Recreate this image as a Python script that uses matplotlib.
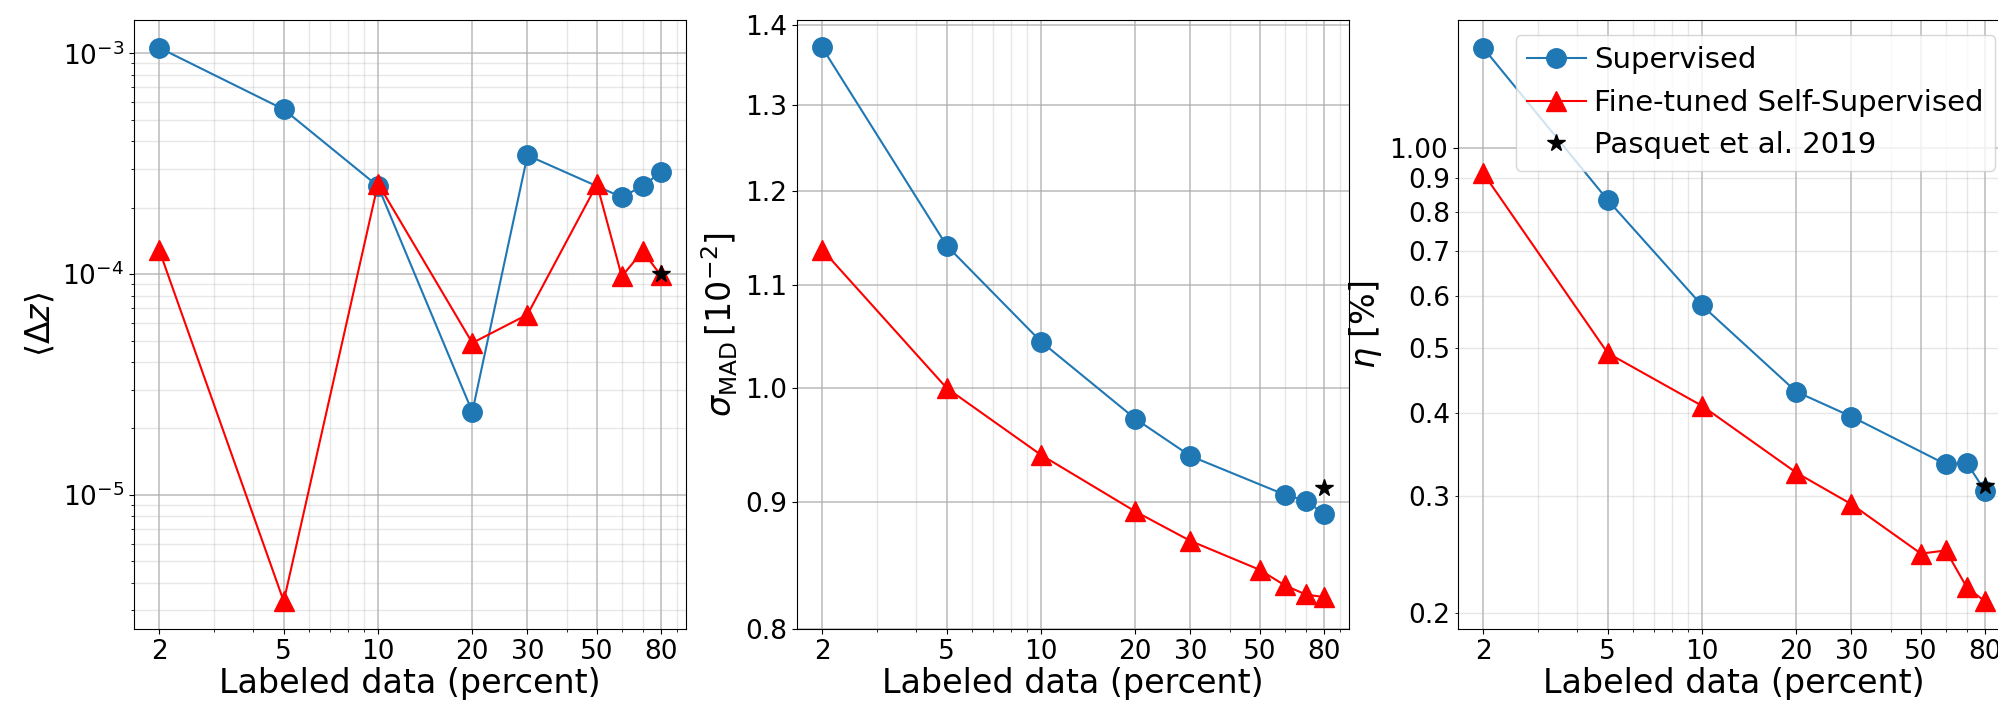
import matplotlib
matplotlib.use('Agg')
import matplotlib.pyplot as plt
from matplotlib import ticker

# labeled data fractions (percent)
x_sup = [2, 5, 10, 20, 30, 60, 70, 80]
x_ft = [2, 5, 10, 20, 30, 50, 60, 70, 80]
x_pasquet = [80]

# mean bias <dz>
bias_sup = [1.06e-3, 5.57e-4, 2.50e-4, 2.38e-5, 3.45e-4, 2.23e-4, 2.51e-4, 2.89e-4]
bias_ft = [1.29e-4, 3.30e-6, 2.57e-4, 4.88e-5, 6.56e-5, 2.55e-4, 9.77e-5, 1.27e-4, 9.86e-5]
bias_pasquet = [1.0e-4]

# sigma_MAD [1e-2]
mad_sup = [1.371, 1.141, 1.044, 0.972, 0.939, 0.906, 0.901, 0.890]
mad_ft = [1.137, 1.000, 0.940, 0.892, 0.868, 0.845, 0.833, 0.826, 0.824]
mad_pasquet = [0.912]

# outlier fraction eta [%]
eta_sup = [1.414, 0.835, 0.580, 0.4305, 0.395, 0.335, 0.3366, 0.3057]
eta_ft = [0.917, 0.492, 0.410, 0.3254, 0.2918, 0.246, 0.2487, 0.219, 0.2086]
eta_pasquet = [0.3104]

xticks = [2, 5, 10, 20, 30, 50, 80]
mad_ticks = [0.8, 0.9, 1.0, 1.1, 1.2, 1.3, 1.4]

W, H = 1998, 706
fig = plt.figure(figsize=(W / 100, H / 100), dpi=100)
bottom = 1 - 629 / H
height = (629 - 20) / H
width = 552 / W
ax1 = fig.add_axes([134 / W, bottom, width, height])
ax2 = fig.add_axes([797 / W, bottom, width, height])
ax3 = fig.add_axes([1458 / W, bottom, width, height])

panels = [(ax1, bias_sup, bias_ft, bias_pasquet, r'$\langle \Delta z \rangle$'),
          (ax2, mad_sup, mad_ft, mad_pasquet, r'$\sigma_{\mathrm{MAD}}\,[10^{-2}]$'),
          (ax3, eta_sup, eta_ft, eta_pasquet, r'$\eta$ [%]')]

for ax, sup, ft, pq, ylab in panels:
    ax.plot(x_sup, sup, 'o-', color='#1f77b4', markersize=14, linewidth=1.5, label='Supervised')
    ax.plot(x_ft, ft, '^-', color='red', markersize=14, linewidth=1.5, label='Fine-tuned Self-Supervised')
    ax.plot(x_pasquet, pq, '*', color='black', markersize=13, label='Pasquet et al. 2019')
    ax.set_xscale('log')
    ax.set_yscale('log')
    ax.set_xticks(xticks)
    ax.xaxis.set_major_formatter(ticker.ScalarFormatter())
    ax.xaxis.set_minor_formatter(ticker.NullFormatter())
    ax.set_xlabel('Labeled data (percent)', fontsize=24, labelpad=2)
    ax.set_ylabel(ylab, fontsize=24)
    ax.tick_params(labelsize=19)
    ax.grid(which='major', color='#b0b0b0', alpha=0.8, linewidth=1.2)
    ax.grid(which='minor', color='#b0b0b0', alpha=0.3, linewidth=1.0)

# middle panel: explicit linear-looking ticks on log axis
ax2.yaxis.set_minor_locator(ticker.NullLocator())
ax2.set_yticks(mad_ticks)
ax2.yaxis.set_major_formatter(ticker.FormatStrFormatter('%.1f'))

# right panel: label minor ticks too
ax3.yaxis.set_major_formatter(ticker.FormatStrFormatter('%.2f'))
ax3.yaxis.set_minor_formatter(ticker.FormatStrFormatter('%.1f'))
ax3.tick_params(which='minor', labelsize=19)

ax3.legend(loc='upper right', fontsize=21, handletextpad=0.3, borderpad=0.4, labelspacing=0.5)

plt.savefig('out.png', dpi=100)
